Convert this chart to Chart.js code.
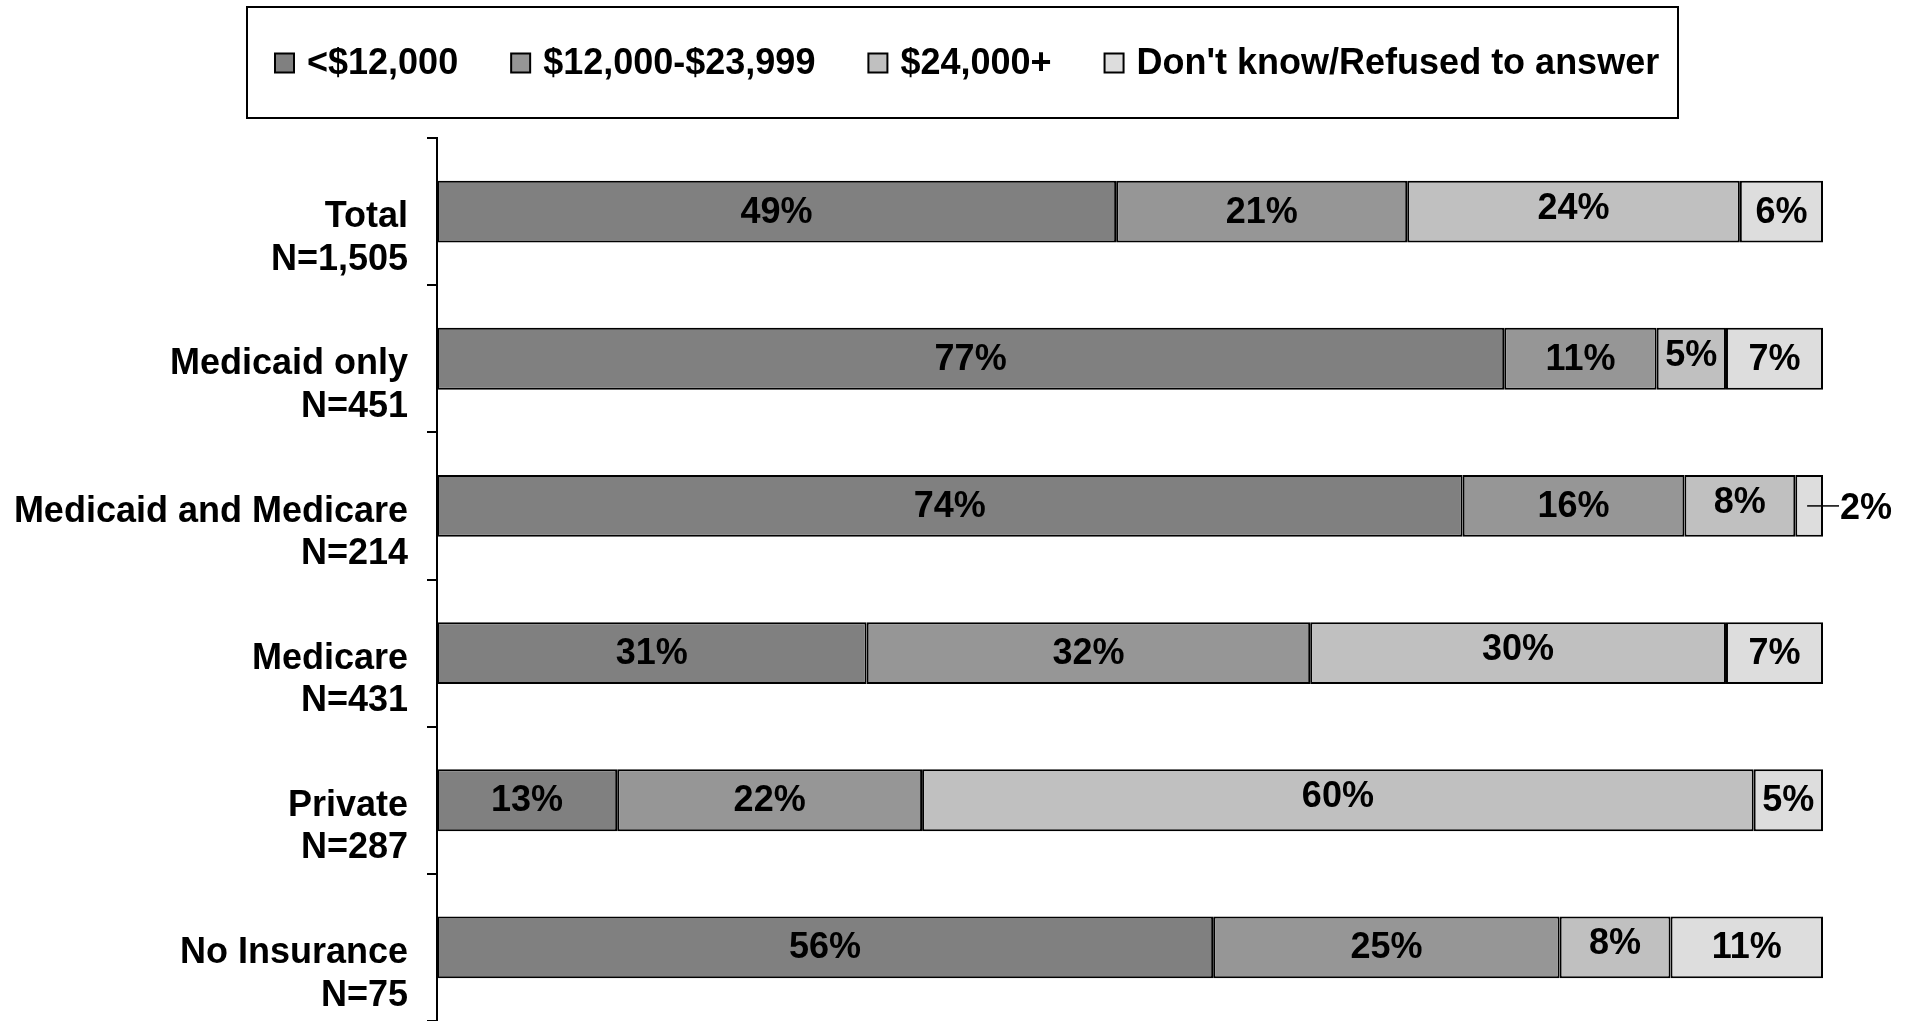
<!DOCTYPE html>
<html>
<head>
<meta charset="utf-8">
<script src="https://cdn.jsdelivr.net/npm/chart.js@4/dist/chart.umd.min.js"></script>
<style>
  body { margin: 0; background: #fff; }
  #wrap { width: 1913px; height: 1021px; }
</style>
</head>
<body>
<div id="wrap"><canvas id="incomeChart" width="1913" height="1021"></canvas></div>
<script>
const categories = [
    ['Total', 'N=1,505'],
    ['Medicaid only', 'N=451'],
    ['Medicaid and Medicare', 'N=214'],
    ['Medicare', 'N=431'],
    ['Private', 'N=287'],
    ['No Insurance', 'N=75']
];
const seriesNames = ['<$12,000', '$12,000-$23,999', '$24,000+', "Don't know/Refused to answer"];
const under12k = [49, 77, 74, 31, 13, 56];
const from12to24k = [21, 11, 16, 32, 22, 25];
const over24k = [24, 5, 8, 30, 60, 8];
const dontKnow = [6, 7, 2, 7, 5, 11];

const colors = ['#808080', '#969696', '#c0c0c0', '#dddddd'];
const FONT = '"Liberation Sans", Arial, sans-serif';

// legend drawn inside a framed box at the top
const boxLegend = {
    id: 'boxLegend',
    afterDraw(chart) {
        const ctx = chart.ctx;
        ctx.save();
        ctx.lineWidth = 2;
        ctx.strokeStyle = '#000';
        ctx.strokeRect(247, 7, 1431, 111);

        ctx.font = 'bold 36px ' + FONT;
        ctx.textBaseline = 'middle';
        ctx.textAlign = 'left';
        const sq = 19, gapIn = 13, gapOut = 53;
        let x = 275;
        const cy = 63;
        chart.data.datasets.forEach(ds => {
            ctx.fillStyle = ds.backgroundColor;
            ctx.fillRect(x, cy - sq / 2, sq, sq);
            ctx.lineWidth = 2;
            ctx.strokeRect(x, cy - sq / 2, sq, sq);
            ctx.fillStyle = '#000';
            ctx.fillText(ds.label, x + sq + gapIn, cy + 1);
            x += sq + gapIn + ctx.measureText(ds.label).width + gapOut;
        });
        ctx.restore();
    }
};

// percent labels on each segment
const barLabels = {
    id: 'barLabels',
    afterDatasetsDraw(chart) {
        const ctx = chart.ctx;
        ctx.save();
        ctx.font = 'bold 36px ' + FONT;
        ctx.fillStyle = '#000';
        ctx.strokeStyle = '#000';
        ctx.lineWidth = 1.5;
        ctx.textBaseline = 'middle';
        chart.data.datasets.forEach((ds, i) => {
            chart.getDatasetMeta(i).data.forEach((bar, j) => {
                const v = ds.data[j];
                const txt = v + '%';
                const c = bar.getCenterPoint();
                const dy = i === 2 ? -3 : 1;
                if (v < 4) {
                    ctx.beginPath();
                    ctx.moveTo(c.x - 2, c.y);
                    ctx.lineTo(bar.x + 16, c.y);
                    ctx.stroke();
                    ctx.textAlign = 'left';
                    ctx.fillText(txt, bar.x + 17, c.y + 3);
                } else {
                    ctx.textAlign = 'center';
                    ctx.fillText(txt, c.x, c.y + dy);
                }
            });
        });
        ctx.restore();
    }
};

const values = [under12k, from12to24k, over24k, dontKnow];

new Chart(document.getElementById('incomeChart'), {
    type: 'bar',
    data: {
        labels: categories,
        datasets: seriesNames.map((name, i) => ({
            label: name,
            data: values[i],
            backgroundColor: colors[i],
            borderColor: '#000',
            borderWidth: 2,
            borderSkipped: false,
            categoryPercentage: 1,
            barPercentage: 0.42
        }))
    },
    options: {
        indexAxis: 'y',
        responsive: false,
        animation: false,
        layout: { padding: { top: 138, right: 90, bottom: 0, left: 0 } },
        plugins: {
            legend: { display: false },
            tooltip: { enabled: false }
        },
        scales: {
            x: {
                stacked: true,
                min: 0,
                max: 100,
                display: false
            },
            y: {
                stacked: true,
                afterFit(scale) {
                    scale.width = 437;
                    scale.paddingTop = 0;
                    scale.paddingBottom = 0;
                },
                border: { display: true, color: '#000', width: 2 },
                grid: {
                    offset: true,
                    drawOnChartArea: false,
                    drawTicks: true,
                    tickLength: 10,
                    color: '#000',
                    lineWidth: 2
                },
                ticks: {
                    color: '#000',
                    padding: 19,
                    labelOffset: 27,
                    font: { family: FONT, size: 36, weight: 'bold', lineHeight: 1.18 }
                }
            }
        }
    },
    plugins: [boxLegend, barLabels]
});
</script>
</body>
</html>
